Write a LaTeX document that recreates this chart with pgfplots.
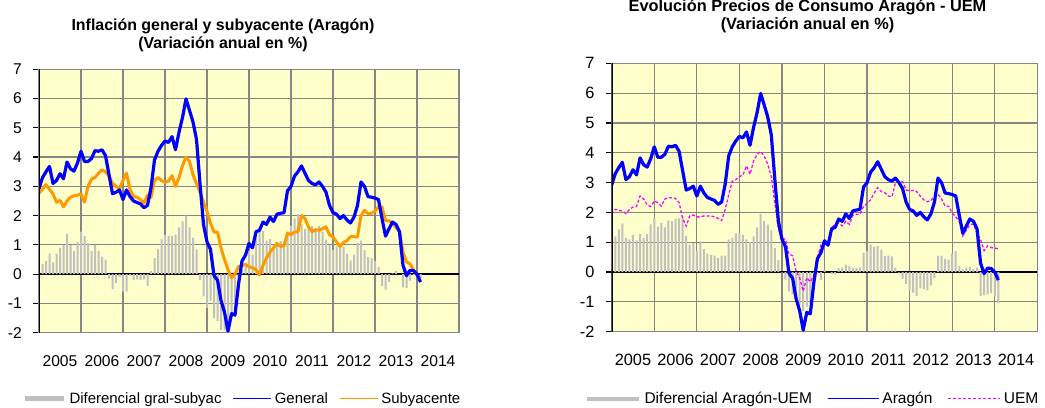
\documentclass[border=0pt]{standalone}
\usepackage{fontspec}
\setmainfont{Liberation Sans}
\usepackage{pgfplots}
\usepackage{pgfplotstable}
\pgfplotsset{compat=1.18}
\definecolor{bgyellow}{RGB}{255,255,204}
\definecolor{gridgray}{RGB}{134,134,134}
\definecolor{barGray}{RGB}{192,192,192}
\definecolor{lineblue}{RGB}{0,0,255}
\definecolor{lineorange}{RGB}{255,153,0}
\definecolor{linemag}{RGB}{255,0,255}

% General (G), Subyacente (S), Diferencial gral-subyac (D); m = months since Jan 2005
\pgfplotstableread{
m G S D
0 2.92 2.77 0.15
1 3.30 2.90 0.35
2 3.50 3.06 0.45
3 3.68 2.90 0.70
4 3.10 2.74 0.40
5 3.20 2.46 0.70
6 3.43 2.52 0.90
7 3.26 2.30 1.00
8 3.83 2.50 1.38
9 3.60 2.63 1.00
10 3.52 2.68 0.80
11 3.80 2.70 1.10
12 4.20 2.74 1.45
13 3.85 2.46 1.30
14 3.85 3.00 1.05
15 3.95 3.25 0.80
16 4.22 3.30 1.00
17 4.20 3.45 0.80
18 4.25 3.56 0.60
19 4.05 3.50 0.50
20 3.40 3.35 -0.15
21 2.75 3.10 -0.50
22 2.80 3.00 -0.30
23 2.88 2.92 -0.10
24 2.55 3.20 -0.60
25 2.88 3.45 -0.60
26 2.65 2.90 -0.05
27 2.50 2.65 -0.20
28 2.45 2.63 -0.18
29 2.40 2.55 -0.20
30 2.27 2.43 -0.18
31 2.35 2.69 -0.40
32 2.95 2.63 0.10
33 3.90 3.20 0.55
34 4.20 3.30 0.85
35 4.40 3.20 1.20
36 4.55 3.14 1.35
37 4.50 3.18 1.30
38 4.70 3.37 1.30
39 4.25 3.00 1.35
40 4.85 3.30 1.60
41 5.35 3.70 1.80
42 5.99 4.00 2.00
43 5.60 3.85 1.60
44 5.20 3.40 1.25
45 4.60 3.10 0.85
46 3.10 2.80 -0.20
47 1.70 2.46 -0.76
48 1.10 2.15 -1.15
49 0.85 1.75 -0.90
50 -0.05 1.44 -1.50
51 -0.20 1.44 -1.60
52 -0.90 0.90 -1.90
53 -1.30 0.50 -1.90
54 -1.95 0.15 -2.10
55 -1.35 -0.12 -1.40
56 -1.40 0.00 -1.40
57 -0.35 0.26 -0.61
58 0.45 0.30 0.15
59 0.65 0.33 0.32
60 1.05 0.25 0.80
61 0.90 0.22 0.68
62 1.45 0.15 1.30
63 1.50 -0.03 1.53
64 1.78 0.30 1.48
65 1.70 0.55 1.15
66 1.95 0.75 1.20
67 1.80 0.90 0.90
68 2.05 1.05 1.00
69 2.08 0.95 1.13
70 2.10 0.97 1.13
71 2.85 1.40 1.45
72 3.00 1.35 1.65
73 3.35 1.44 1.91
74 3.50 1.45 2.05
75 3.70 2.00 1.70
76 3.45 1.90 1.55
77 3.20 1.62 1.58
78 3.10 1.45 1.65
79 3.05 1.52 1.53
80 3.15 1.50 1.65
81 3.00 1.55 1.45
82 2.80 1.62 1.18
83 2.35 1.35 1.00
84 2.10 1.27 0.83
85 2.05 1.10 0.95
86 1.90 0.95 0.95
87 2.00 1.08 0.92
88 1.85 1.15 0.70
89 1.75 1.28 0.47
90 1.95 1.28 0.67
91 2.35 1.27 1.08
92 3.15 2.00 1.15
93 3.00 2.18 0.82
94 2.65 2.07 0.58
95 2.63 2.08 0.55
96 2.60 2.15 0.45
97 2.55 2.30 0.25
98 1.90 2.30 -0.40
99 1.30 1.83 -0.53
100 1.55 1.82 -0.27
101 1.78 1.75 0.03
102 1.70 1.60 0.10
103 1.45 1.45 0.00
104 0.30 0.75 -0.45
105 -0.05 0.42 -0.47
106 0.13 0.35 -0.22
107 0.12 0.15 -0.03
108 0.00 -0.05 0.05
109 -0.27 -0.16 -0.11
}\tabLeft

% Aragon (A), UEM (U), Diferencial Aragon-UEM (D)
\pgfplotstableread{
m A U D
0 2.92 1.94 0.98
1 3.30 2.10 1.20
2 3.50 2.07 1.43
3 3.68 2.05 1.63
4 3.10 1.96 1.14
5 3.20 2.10 1.10
6 3.43 2.18 1.25
7 3.26 2.20 1.06
8 3.83 2.55 1.28
9 3.60 2.45 1.15
10 3.52 2.25 1.27
11 3.80 2.20 1.60
12 4.20 2.38 1.82
13 3.85 2.33 1.52
14 3.85 2.21 1.64
15 3.95 2.45 1.50
16 4.22 2.49 1.73
17 4.20 2.49 1.71
18 4.25 2.47 1.78
19 4.05 2.33 1.80
20 3.40 1.80 1.85
21 2.75 1.54 1.21
22 2.80 1.88 0.92
23 2.88 1.91 0.97
24 2.55 1.85 0.70
25 2.88 1.85 1.03
26 2.65 1.88 0.77
27 2.50 1.88 0.62
28 2.45 1.88 0.57
29 2.40 1.85 0.55
30 2.27 1.80 0.47
31 2.35 1.73 0.55
32 2.95 2.10 0.55
33 3.90 2.60 1.10
34 4.20 3.05 1.15
35 4.40 3.10 1.30
36 4.55 3.20 1.30
37 4.50 3.25 1.25
38 4.70 3.56 1.10
39 4.25 3.28 1.00
40 4.85 3.72 1.20
41 5.35 3.95 1.50
42 5.99 4.04 1.95
43 5.60 3.89 1.71
44 5.20 3.61 1.59
45 4.60 3.20 1.40
46 3.10 2.30 0.80
47 1.70 1.45 0.40
48 1.10 1.12 -0.02
49 0.85 1.10 -0.25
50 -0.05 0.60 -0.65
51 -0.20 0.55 -0.75
52 -0.90 0.03 -0.93
53 -1.30 -0.20 -1.10
54 -1.95 -0.64 -1.31
55 -1.35 -0.19 -1.16
56 -1.40 -0.33 -1.07
57 -0.35 -0.10 -0.25
58 0.45 0.48 -0.03
59 0.65 0.91 -0.26
60 1.05 0.97 0.08
61 0.90 0.90 0.00
62 1.45 1.51 -0.06
63 1.50 1.58 -0.08
64 1.78 1.65 0.13
65 1.70 1.55 0.15
66 1.95 1.70 0.25
67 1.80 1.60 0.20
68 2.05 1.90 0.15
69 2.08 1.94 0.14
70 2.10 1.94 0.16
71 2.85 2.20 0.65
72 3.00 2.30 0.70
73 3.35 2.42 0.93
74 3.50 2.65 0.85
75 3.70 2.83 0.87
76 3.45 2.70 0.75
77 3.20 2.66 0.54
78 3.10 2.55 0.55
79 3.05 2.52 0.53
80 3.15 3.00 0.15
81 3.00 3.02 -0.02
82 2.80 3.03 -0.23
83 2.35 2.75 -0.40
84 2.10 2.72 -0.62
85 2.05 2.74 -0.69
86 1.90 2.70 -0.80
87 2.00 2.55 -0.55
88 1.85 2.42 -0.57
89 1.75 2.36 -0.61
90 1.95 2.40 -0.45
91 2.35 2.55 -0.20
92 3.15 2.61 0.54
93 3.00 2.45 0.55
94 2.65 2.21 0.44
95 2.63 2.21 0.42
96 2.60 1.98 0.62
97 2.55 1.85 0.70
98 1.90 1.70 0.20
99 1.30 1.21 0.09
100 1.55 1.40 0.15
101 1.78 1.60 0.18
102 1.70 1.60 0.10
103 1.45 1.30 0.15
104 0.30 1.10 -0.80
105 -0.05 0.72 -0.77
106 0.13 0.88 -0.75
107 0.12 0.82 -0.70
108 0.00 0.80 -0.80
109 -0.27 0.78 -1.05
}\tabRight

\pgfplotsset{
  chartbase/.style={
    scale only axis,
    xmin=0, xmax=120, ymin=-2, ymax=7,
    xtick={0,12,...,108},
    xticklabels={2005,2006,2007,2008,2009,2010,2011,2012,2013,2014},
    ytick={-2,-1,...,7},
    grid=major,
    major grid style={draw=gridgray, line width=1.2bp},
    axis line style={draw=gridgray, line width=1.2bp},
    axis background/.style={fill=bgyellow},
    tick align=outside,
    major tick length=5.5bp,
    xtick style={draw=none},
    ytick style={draw=black, line width=1.2bp},
    tick pos=left,
    /pgf/number format/assume math mode=true,
    extra y ticks={0},
    extra y tick labels={},
    extra y tick style={grid=major, major grid style={draw=black, line width=2.6bp}},
    yticklabel style={anchor=east, inner xsep=0pt, xshift=-11.5bp},
    legend cell align=left,
  }
}

\begin{document}
\begin{tikzpicture}
% ---------- Left chart ----------
\begin{axis}[chartbase,
  at={(39bp,75.3bp)}, anchor=south west,
  width=420bp, height=263.4bp,
  tick label style={font=\fontsize{15.7}{18}\selectfont},
  xticklabel style={anchor=base, xshift=21bp, yshift=-27.8bp},
  legend style={at={(-0.038,-0.25)}, anchor=west, draw=none, fill=none,
    inner sep=0pt, outer sep=0pt, font=\fontsize{15}{18}\selectfont,
    legend columns=3,
    /tikz/every even column/.append style={column sep=8bp},
    nodes={inner xsep=3bp, inner ysep=1bp}},
]
\addplot[ybar, bar width=2bp, fill=barGray, draw=none, forget plot] table[x=m, y=D] {\tabLeft};
\addplot[lineorange, line width=3bp, line join=round, no marks, forget plot] table[x=m, y=S] {\tabLeft};
\addplot[lineblue, line width=3.2bp, line join=round, no marks, forget plot] table[x=m, y=G] {\tabLeft};
\draw[black, line width=2bp] (rel axis cs:0,0) -- (rel axis cs:0,1);
\addlegendimage{legend image code/.code={\draw[barGray, line width=4.5bp] (0bp,0bp) -- (39bp,0bp);}}
\addlegendentry{Diferencial gral-subyac}
\addlegendimage{legend image code/.code={\draw[lineblue, line width=1.3bp] (0bp,0bp) -- (38bp,0bp);}}
\addlegendentry{General}
\addlegendimage{legend image code/.code={\draw[lineorange, line width=1.3bp] (0bp,0bp) -- (38bp,0bp);}}
\addlegendentry{Subyacente}
\end{axis}

% ---------- Right chart ----------
\begin{axis}[chartbase,
  at={(611.7bp,76.3bp)}, anchor=south west,
  width=425.6bp, height=268.4bp,
  tick label style={font=\fontsize{16.4}{19}\selectfont},
  xticklabel style={anchor=base, xshift=21.28bp, yshift=-28.8bp},
  legend style={at={(-0.0627,-0.250)}, anchor=west, draw=none, fill=none,
    inner sep=0pt, outer sep=0pt, font=\fontsize{15.6}{18}\selectfont,
    legend columns=3,
    /tikz/every even column/.append style={column sep=12bp},
    nodes={inner xsep=3bp, inner ysep=1bp}},
]
\addplot[ybar, bar width=2bp, fill=barGray, draw=none, forget plot] table[x=m, y=D] {\tabRight};
\addplot[linemag, line width=1.3bp, dash pattern=on 3bp off 2bp, no marks, forget plot] table[x=m, y=U] {\tabRight};
\addplot[lineblue, line width=3.2bp, line join=round, no marks, forget plot] table[x=m, y=A] {\tabRight};
\draw[black, line width=2bp] (rel axis cs:0,0) -- (rel axis cs:0,1);
\addlegendimage{legend image code/.code={\draw[barGray, line width=4.5bp] (0bp,0bp) -- (52bp,0bp);}}
\addlegendentry{Diferencial Aragón-UEM}
\addlegendimage{legend image code/.code={\draw[lineblue, line width=1.3bp] (0bp,0bp) -- (51bp,0bp);}}
\addlegendentry{Aragón}
\addlegendimage{legend image code/.code={\draw[linemag, line width=1.3bp, dash pattern=on 3bp off 2bp] (0bp,0bp) -- (52bp,0bp);}}
\addlegendentry{UEM}
\end{axis}

% ---------- Titles ----------
\node[anchor=base, inner sep=0pt, font=\bfseries\fontsize{16}{19}\selectfont] at (223bp,377bp) {Inflación general y subyacente (Aragón)};
\node[anchor=base, inner sep=0pt, font=\bfseries\fontsize{16}{19}\selectfont] at (223bp,359.7bp) {(Variación anual en \%)};
\node[anchor=base, inner sep=0pt, font=\bfseries\fontsize{16.4}{19}\selectfont] at (807.5bp,396.3bp) {Evolución Precios de Consumo Aragón - UEM};
\node[anchor=base, inner sep=0pt, font=\bfseries\fontsize{16.4}{19}\selectfont] at (807.5bp,378bp) {(Variación anual en \%)};

\pgfresetboundingbox
\path[use as bounding box] (0bp,0bp) rectangle (1045bp,408bp);
\end{tikzpicture}
\end{document}
